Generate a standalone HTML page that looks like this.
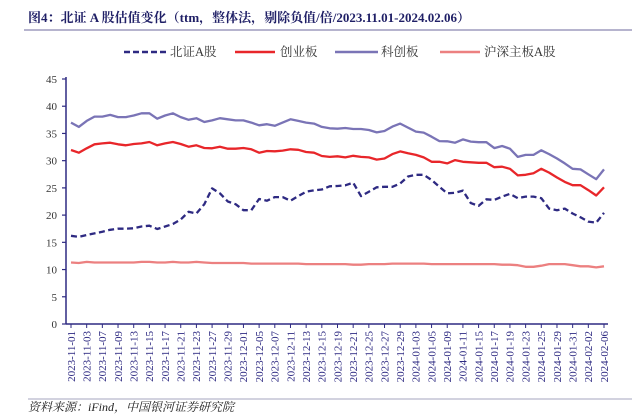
<!DOCTYPE html>
<html><head><meta charset="utf-8"><style>
body{margin:0;background:#fff;width:635px;height:415px;overflow:hidden;font-family:"Liberation Serif","Noto Serif CJK SC",serif;}
</style></head><body>
<svg id="chart" width="635" height="415" xmlns="http://www.w3.org/2000/svg">
<text x="28" y="22" font-size="13" font-weight="bold" fill="#1f1f66" font-family="Liberation Serif, Noto Serif CJK SC, serif">图4：北证 A 股估值变化（ttm，整体法，剔除负值/倍/2023.11.01-2024.02.06）</text>
<line x1="24" y1="30" x2="632" y2="30" stroke="#8a86b0" stroke-width="1.2"/>
<g id="legend" font-size="12.5" fill="#333" font-family="Liberation Serif, Noto Serif CJK SC, serif">
 <g><line x1="124" y1="52" x2="168" y2="52" stroke="#2e2a82" stroke-width="2.5" stroke-dasharray="6,3"/><text x="170" y="56">北证A股</text></g>
 <g><line x1="235" y1="52" x2="275" y2="52" stroke="#e8262a" stroke-width="2.5"/><text x="280" y="56">创业板</text></g>
 <g><line x1="335" y1="52" x2="378" y2="52" stroke="#7a74b6" stroke-width="2.5"/><text x="381" y="56">科创板</text></g>
 <g><line x1="440" y1="52" x2="480" y2="52" stroke="#ec8080" stroke-width="2.5"/><text x="484" y="56">沪深主板A股</text></g>
</g>
<g id="axes"></g>
<g id="series"></g>
<line x1="28" y1="399" x2="632" y2="399" stroke="#b8b6cc" stroke-width="1.2"/>
<text x="28" y="411" font-size="12" font-style="italic" fill="#222">资料来源：iFind，中国银河证券研究院</text>
</svg>
<script>
const xLabels=["2023-11-01","2023-11-03","2023-11-07","2023-11-09","2023-11-13","2023-11-15","2023-11-17","2023-11-21","2023-11-23","2023-11-27","2023-11-29","2023-12-01","2023-12-05","2023-12-07","2023-12-11","2023-12-13","2023-12-15","2023-12-19","2023-12-21","2023-12-25","2023-12-27","2023-12-29","2024-01-03","2024-01-05","2024-01-09","2024-01-11","2024-01-15","2024-01-17","2024-01-19","2024-01-23","2024-01-25","2024-01-29","2024-01-31","2024-02-02","2024-02-06"];
const yTicks=[0,5,10,15,20,25,30,35,40,45];
const bzA=[16.2,16.0,16.35,16.65,16.96,17.3,17.5,17.5,17.57,17.9,18.06,17.45,17.9,18.37,19.2,20.6,20.3,22.0,24.9,24.0,22.5,22.0,20.9,20.9,22.96,22.65,23.3,23.3,22.65,23.5,24.3,24.55,24.7,25.3,25.35,25.47,25.96,23.5,24.3,25.1,25.2,25.2,25.8,27.1,27.4,27.4,26.45,25.2,24.0,24.1,24.5,22.2,21.7,22.9,22.8,23.4,23.9,23.1,23.4,23.4,23.1,21.2,20.9,21.2,20.3,19.6,18.8,18.6,20.4];
const cyb=[31.96,31.47,32.27,33.0,33.18,33.3,33.0,32.82,33.06,33.18,33.43,32.82,33.18,33.43,33.06,32.57,32.82,32.33,32.27,32.57,32.2,32.2,32.33,32.08,31.47,31.78,31.72,31.84,32.08,32.0,31.6,31.47,30.86,30.7,30.8,30.6,30.9,30.7,30.6,30.2,30.4,31.2,31.7,31.35,31.05,30.6,29.8,29.8,29.5,30.1,29.8,29.7,29.6,29.6,28.8,28.9,28.5,27.3,27.4,27.7,28.5,27.8,26.9,26.1,25.5,25.5,24.6,23.6,25.1];
const kcb=[37.0,36.2,37.3,38.1,38.1,38.4,38.0,38.0,38.3,38.7,38.7,37.7,38.3,38.7,38.0,37.5,37.8,37.1,37.4,37.8,37.6,37.4,37.4,37.0,36.5,36.7,36.4,37.0,37.6,37.3,37.0,36.8,36.2,35.94,35.88,36.0,35.82,35.82,35.64,35.2,35.45,36.25,36.8,36.07,35.33,35.15,34.4,33.6,33.55,33.3,33.9,33.5,33.4,33.4,32.3,32.7,32.2,30.7,31.05,31.05,31.9,31.2,30.4,29.5,28.5,28.4,27.5,26.6,28.4];
const hs=[11.3,11.2,11.4,11.3,11.3,11.3,11.3,11.3,11.3,11.4,11.4,11.3,11.3,11.4,11.3,11.3,11.4,11.3,11.2,11.2,11.2,11.2,11.2,11.1,11.1,11.1,11.1,11.1,11.1,11.1,11.0,11.0,11.0,11.0,11.0,11.0,10.9,10.9,11.0,11.0,11.0,11.1,11.1,11.1,11.1,11.1,11.0,11.0,11.0,11.0,11.0,11.0,11.0,11.0,11.0,10.9,10.9,10.8,10.5,10.5,10.7,11.0,11.0,11.0,10.8,10.6,10.6,10.4,10.6];
const ns="http://www.w3.org/2000/svg";
const X0=71,X1=604,Y0=324,Y45=79;
const N=bzA.length;
function xs(i){return X0+(X1-X0)*i/(N-1);}
function ys(v){return Y0-(Y0-Y45)*v/45;}
const axes=document.getElementById('axes');
function mk(tag,attrs,parent){const e=document.createElementNS(ns,tag);for(const k in attrs)e.setAttribute(k,attrs[k]);parent.appendChild(e);return e;}
const ya=mk('line',{x1:66,y1:Y45-2,x2:66,y2:Y0,stroke:'#2e2a82','stroke-width':1.5},axes);


yTicks.forEach(t=>{
 const y=ys(t);
 const tk=mk('line',{x1:62,y1:y,x2:66,y2:y,stroke:'#2e2a82','stroke-width':1.2},axes);
 
 
 const tx=mk('text',{x:57,y:y+4,'text-anchor':'end','font-size':11,fill:'#333'},axes);
 tx.textContent=t;
 
 
});
const xa=mk('line',{x1:66,y1:Y0,x2:608,y2:Y0,stroke:'#2e2a82','stroke-width':1.5},axes);


xLabels.forEach((l,j)=>{
 const x=xs(j*2);
 const tk=mk('line',{x1:x,y1:Y0,x2:x,y2:Y0+4,stroke:'#2e2a82','stroke-width':1},axes);
 
 
 const tx=mk('text',{x:0,y:0,'text-anchor':'end','font-size':11,fill:'#2e2a82',transform:`translate(${x+3.8},${Y0+7}) rotate(-90)`},axes);
 tx.textContent=l;
 
 
});
const sg=document.getElementById('series');
function line(data,color,dash,name){
 const d=data.map((v,i)=>(i?'L':'M')+xs(i).toFixed(1)+','+ys(v).toFixed(1)).join('');
 const p=mk('path',{d:d,fill:'none',stroke:color,'stroke-width':2.3,'stroke-linejoin':'round'},sg);
 if(dash)p.setAttribute('stroke-dasharray',dash);
 
 
}
line(hs,'#ec8080',null,'line-hs-main');
line(kcb,'#7a74b6',null,'line-kcb');
line(cyb,'#e8262a',null,'line-cyb');
line(bzA,'#2e2a82','6,3.5','line-bz-a');
</script>
</body></html>
